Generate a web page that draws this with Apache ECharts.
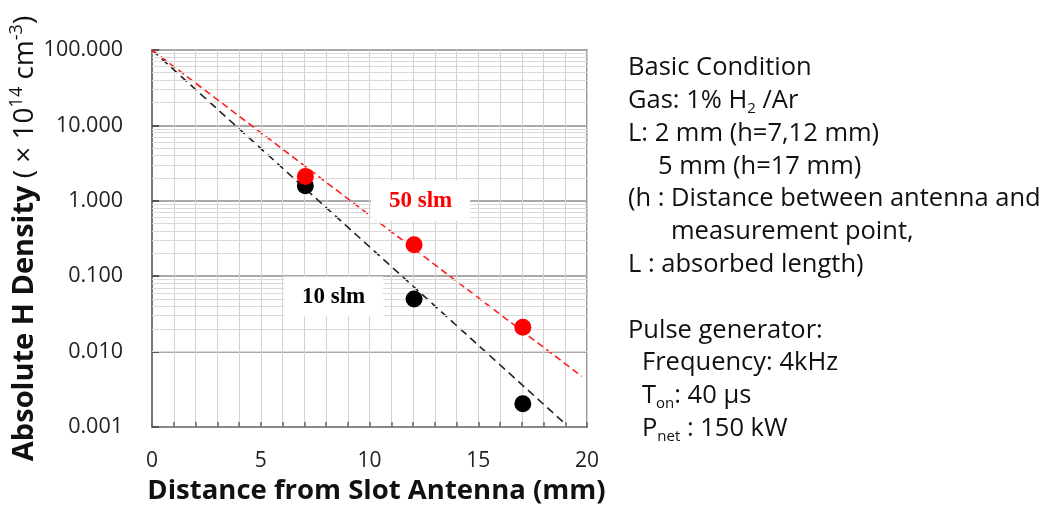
<!DOCTYPE html>
<html>
<head>
<meta charset="utf-8">
<script src="https://cdn.jsdelivr.net/npm/echarts@6/dist/echarts.min.js"></script>
<style>
html,body{margin:0;padding:0;background:#fff;}
#c{width:1044px;height:506px;}
</style>
</head>
<body>
<div id="c"></div>
<script>
// ---- data ----
var xTicks = [0, 5, 10, 15, 20];
var yTicks = [0.001, 0.01, 0.1, 1, 10, 100];
var distance10 = [7.05, 12.05, 17.05];
var density10 = [1.58, 0.050, 0.00203];
var distance50 = [7.05, 12.05, 17.05];
var density50 = [2.1, 0.262, 0.021];
var fit10X = [0, 19.0];
var fit10Y = [100, 0.0011];
var fit50X = [0, 19.76];
var fit50Y = [100, 0.0047];
var decades = [0.001, 0.01, 0.1, 1, 10];
var minorMult = [2, 3, 4, 5, 6, 7, 8, 9];
var label50 = {text: '50 slm', x: 12.35, y: 1.0};
var label10 = {text: '10 slm', x: 8.35, y: 0.0536};
var noteLines = [
  {indent: 0, text: 'Basic Condition'},
  {indent: 0, text: 'Gas: 1% H{sub|2} /Ar'},
  {indent: 0, text: 'L: 2 mm (h=7,12 mm)'},
  {indent: 30, text: '5 mm (h=17 mm)'},
  {indent: 0, text: '(h : Distance between antenna and'},
  {indent: 43, text: 'measurement point,'},
  {indent: 0, text: 'L : absorbed length)'},
  {indent: 0, text: ''},
  {indent: 0, text: 'Pulse generator:'},
  {indent: 14, text: 'Frequency: 4kHz'},
  {indent: 14, text: 'T{sub|on}: 40 μs'},
  {indent: 14, text: 'P{sub|net} : 150 kW'}
];

function pairs(xs, ys) { return xs.map(function (x, i) { return [x, ys[i]]; }); }

var minorLines = [];
decades.forEach(function (d) {
  minorMult.forEach(function (m) { minorLines.push({yAxis: +(d * m).toPrecision(3)}); });
});

var chart = echarts.init(document.getElementById('c'), null, {renderer: 'canvas'});

var FONT = '"Open Sans", "Noto Sans", sans-serif';
var noteTop = 77, noteStep = 32.8;
var graphics = noteLines.map(function (ln, i) {
  return {
    type: 'text',
    left: 628 + ln.indent,
    top: noteTop + i * noteStep - 24,
    silent: true,
    style: {
      text: ln.text,
      fill: '#111',
      fontFamily: FONT,
      fontSize: 25.5,
      lineHeight: 30,
      rich: {
        sub: {fontSize: 15, fontFamily: FONT, fill: '#111', verticalAlign: 'bottom', lineHeight: 16}
      }
    }
  };
});

var option = {
  animation: false,
  backgroundColor: '#fff',
  grid: {left: 152, top: 50, right: 457, bottom: 79, show: true, borderColor: '#9a9a9a', borderWidth: 2,
         containLabel: false, outerBoundsMode: 'none'},
  xAxis: {
    type: 'value', min: 0, max: 20, interval: 1,
    axisLine: {show: true, lineStyle: {color: '#888', width: 2}},
    axisTick: {show: true, inside: true, length: 5, lineStyle: {color: '#666', width: 1.5}},
    splitLine: {show: true, lineStyle: {color: '#d2d2d2', width: 1}},
    axisLabel: {
      margin: 24, fontSize: 21, fontFamily: FONT, color: '#222',
      formatter: function (v) { return xTicks.indexOf(v) >= 0 ? String(v) : ''; }
    },
    name: 'Distance from Slot Antenna (mm)',
    nameLocation: 'middle', nameGap: 48,
    nameTextStyle: {fontSize: 27.5, fontWeight: 'bold', fontFamily: FONT, color: '#111', padding: [0, 0, 0, 14]}
  },
  yAxis: {
    type: 'log', logBase: 10, min: 0.001, max: 100,
    axisLine: {show: true, lineStyle: {color: '#777', width: 2}},
    axisTick: {show: true, inside: true, length: 7, lineStyle: {color: '#555', width: 2}},
    splitLine: {show: true, lineStyle: {color: '#a8a8a8', width: 2}},
    axisLabel: {
      margin: 29, fontSize: 21.5, fontFamily: FONT, color: '#222',
      formatter: function (v) {
        for (var i = 0; i < yTicks.length; i++) {
          if (Math.abs(Math.log10(v) - Math.log10(yTicks[i])) < 1e-6) return yTicks[i].toFixed(3);
        }
        return '';
      }
    },
    name: '{b|Absolute H Density}{n| ( × 10}{sup|14}{n| cm}{sup|-3}{n|)}',
    nameLocation: 'middle', nameGap: 105, nameRotate: 90,
    nameTextStyle: {
      rich: {
        b: {fontSize: 29, fontWeight: 'bold', fontFamily: FONT, color: '#111', lineHeight: 34},
        n: {fontSize: 28, fontFamily: FONT, color: '#111', lineHeight: 34},
        sup: {fontSize: 18, fontFamily: FONT, color: '#111', verticalAlign: 'top', lineHeight: 20}
      }
    }
  },
  graphic: graphics,
  series: [
    {
      name: 'minor', type: 'line', data: [], z: 1, silent: true,
      markLine: {
        silent: true, symbol: 'none', animation: false,
        label: {show: false},
        lineStyle: {color: '#dadada', width: 1, type: 'solid'},
        data: minorLines
      }
    },
    {
      name: 'fit10', type: 'line', data: pairs(fit10X, fit10Y), z: 3,
      symbol: 'none', silent: true,
      lineStyle: {color: '#222', width: 1.6, type: [8, 5]}
    },
    {
      name: 'fit50', type: 'line', data: pairs(fit50X, fit50Y), z: 3,
      symbol: 'none', silent: true,
      lineStyle: {color: '#ff2020', width: 1.6, type: [7, 4]}
    },
    {
      name: '10 slm', type: 'scatter', data: pairs(distance10, density10), z: 5,
      symbol: 'circle', symbolSize: 17, itemStyle: {color: '#000', opacity: 1},
      markPoint: {
        symbol: 'rect', symbolSize: 1, itemStyle: {color: 'rgba(0,0,0,0)'},
        label: {
          show: true, position: 'inside', formatter: label10.text,
          fontFamily: '"Liberation Serif", "Times New Roman", serif', fontWeight: 'bold',
          fontSize: 23, color: '#000', backgroundColor: '#fff', padding: [9, 18, 8, 18]
        },
        data: [{coord: [label10.x, label10.y]}]
      }
    },
    {
      name: '50 slm', type: 'scatter', data: pairs(distance50, density50), z: 6,
      symbol: 'circle', symbolSize: 17, itemStyle: {color: '#ff0000', opacity: 1},
      markPoint: {
        symbol: 'rect', symbolSize: 1, itemStyle: {color: 'rgba(0,0,0,0)'},
        label: {
          show: true, position: 'inside', formatter: label50.text,
          fontFamily: '"Liberation Serif", "Times New Roman", serif', fontWeight: 'bold',
          fontSize: 23, color: '#ff0000', backgroundColor: '#fff', padding: [9, 18, 8, 18]
        },
        data: [{coord: [label50.x, label50.y]}]
      }
    }
  ]
};
chart.setOption(option);
</script>
</body>
</html>
